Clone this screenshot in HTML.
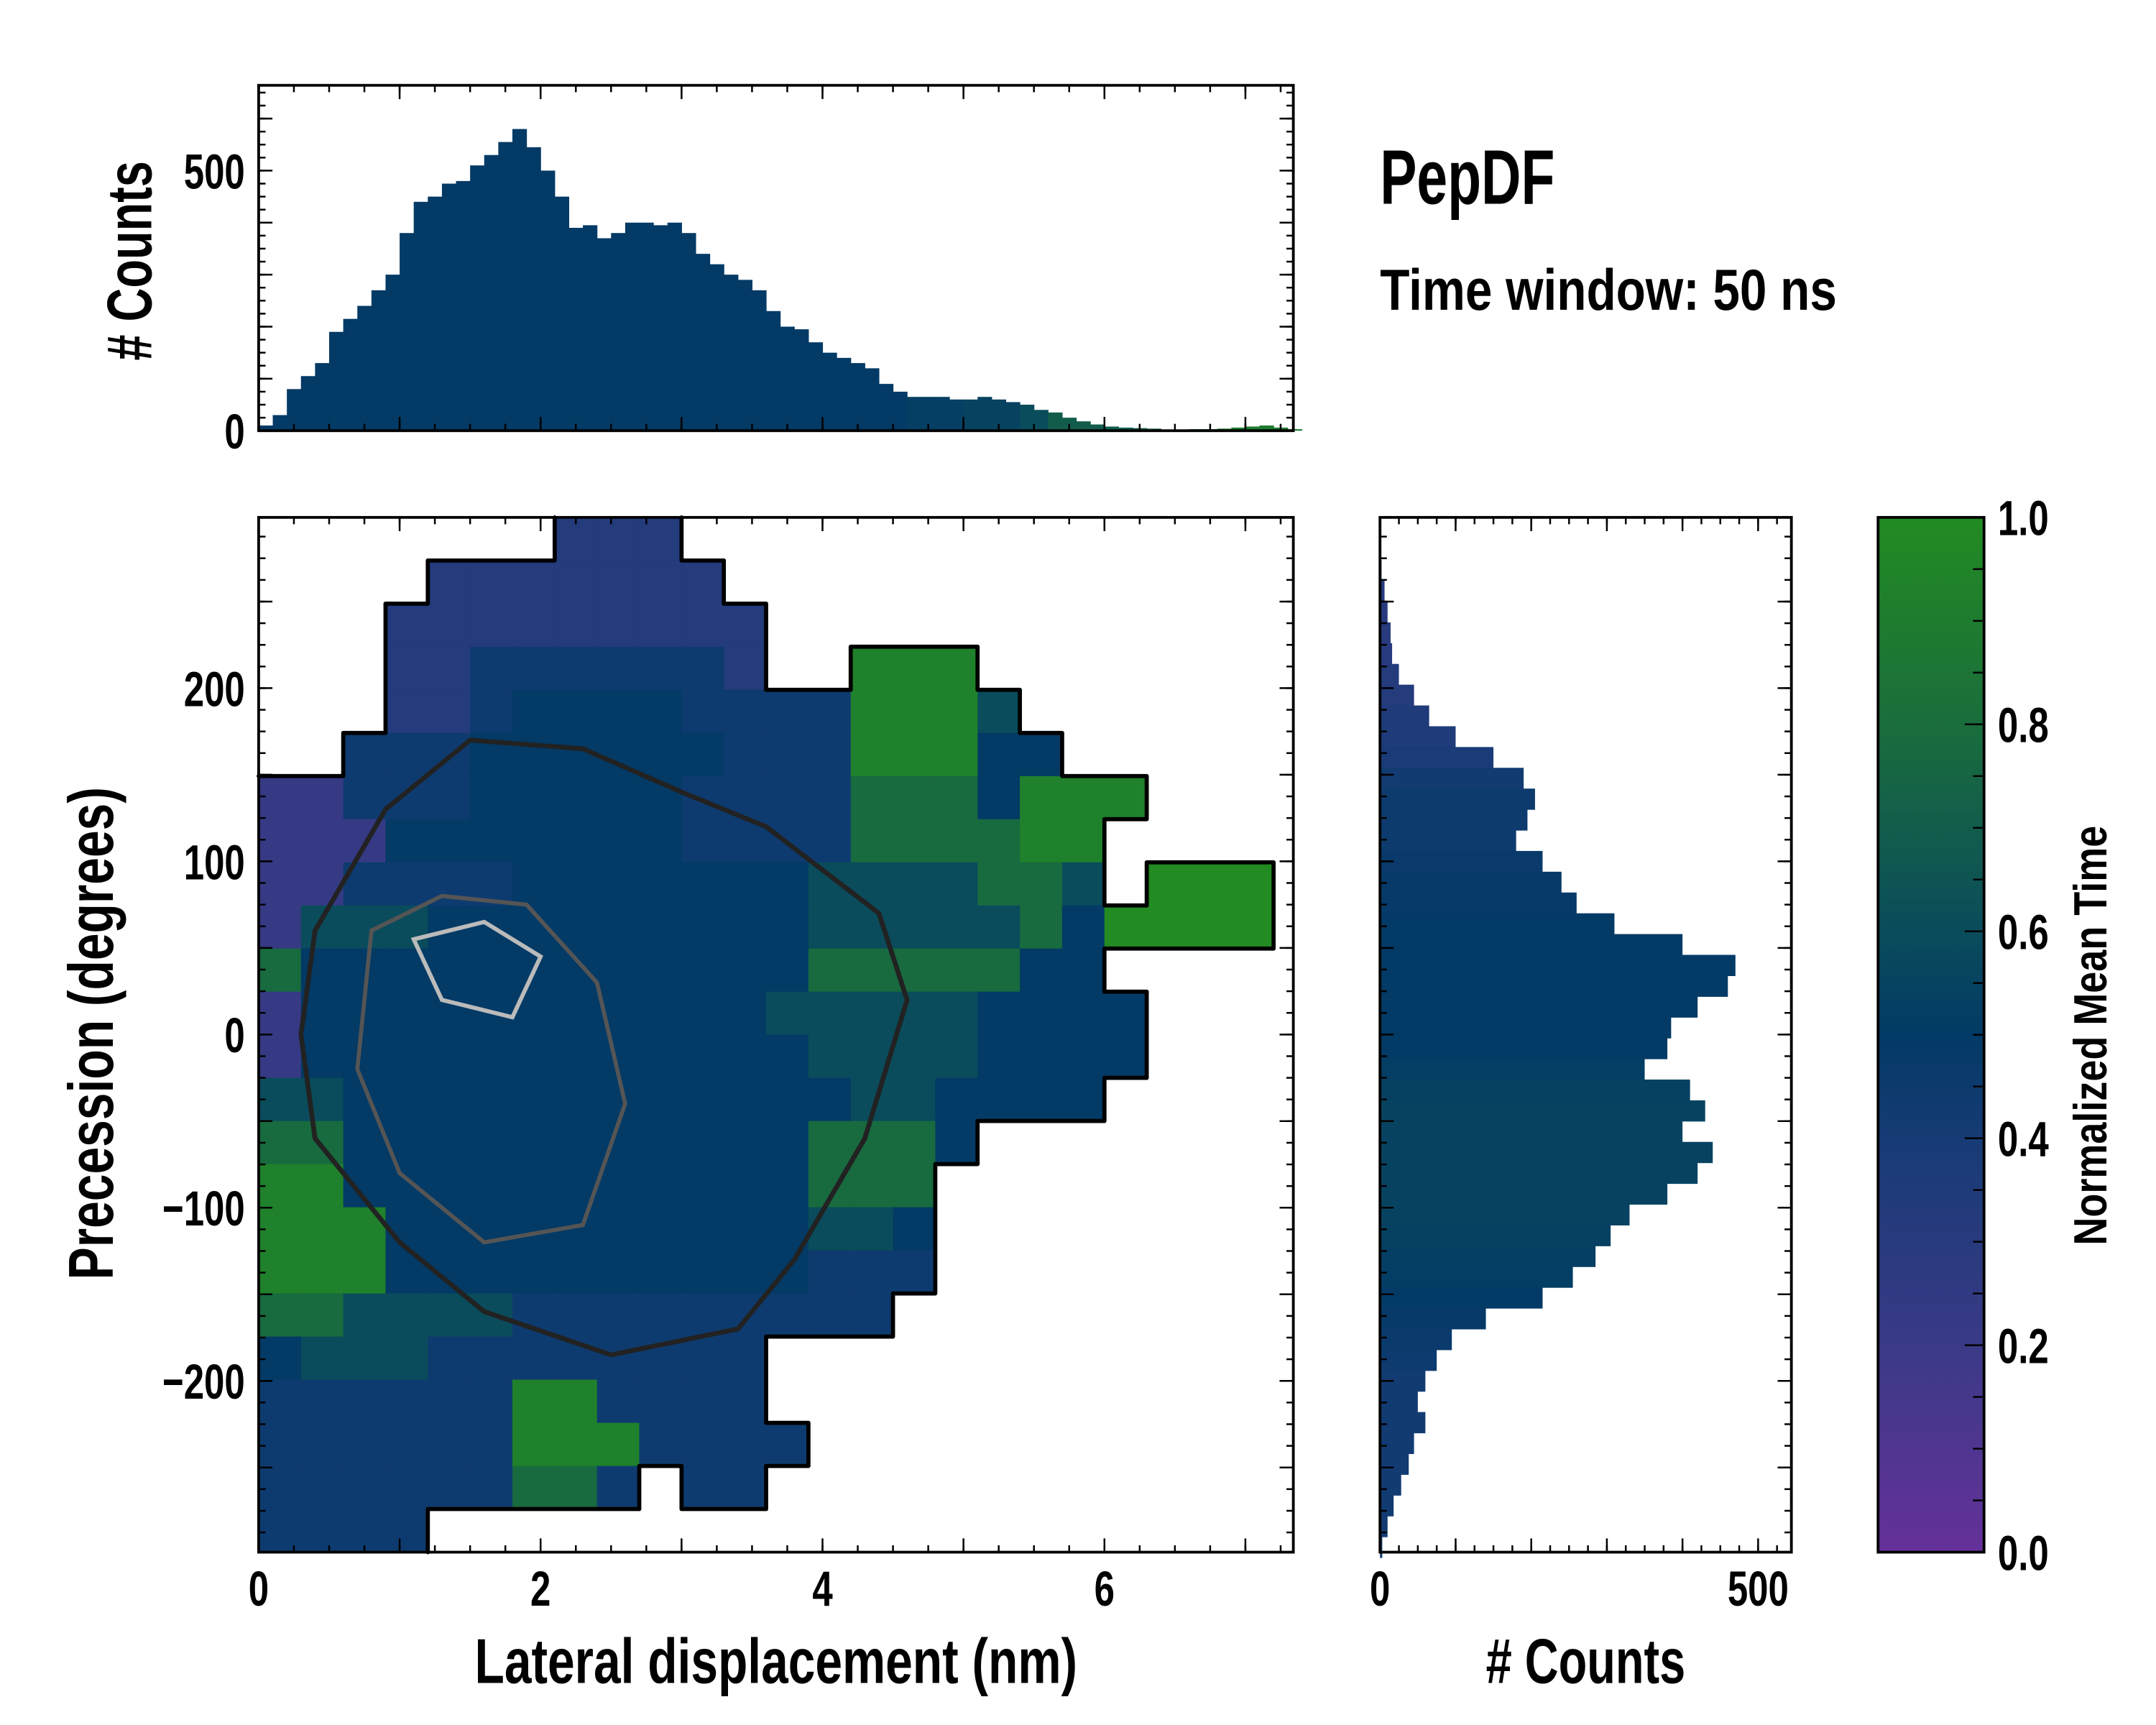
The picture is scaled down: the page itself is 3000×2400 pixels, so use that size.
<!DOCTYPE html>
<html><head><meta charset="utf-8"><style>
html,body{margin:0;padding:0;background:#fff}
svg{display:block}
text{font-family:"Liberation Sans",sans-serif;font-weight:bold;fill:#000}
</style></head><body>
<svg id="fig" xmlns="http://www.w3.org/2000/svg" width="3000" height="2400" viewBox="0 0 1567 1253.6" preserveAspectRatio="none">
<defs>
<linearGradient id="cmap" x1="0" y1="1" x2="0" y2="0">
<stop offset="0" stop-color="#65319a"/><stop offset="0.2" stop-color="#3a3a86"/><stop offset="0.4" stop-color="#163b75"/><stop offset="0.5" stop-color="#033a66"/><stop offset="0.6" stop-color="#0a4c5b"/><stop offset="0.8" stop-color="#1a6d3c"/><stop offset="1" stop-color="#228b22"/>
</linearGradient>
</defs>
<g id="top-hist"></g>
<g id="main"></g>
<g id="right-hist"></g>
<g id="cbar">
<rect x="1365" y="376" width="77" height="752" fill="url(#cmap)" stroke="#000" stroke-width="2"/>
</g>
<text x="1003" y="148" font-size="56" textLength="127" lengthAdjust="spacingAndGlyphs">PepDF</text>
<text x="1003" y="225" font-size="42" textLength="332" lengthAdjust="spacingAndGlyphs">Time window: 50 ns</text>
<text x="345" y="1223" font-size="46" textLength="438" lengthAdjust="spacingAndGlyphs">Lateral displacement (nm)</text>
<text x="1080" y="1223" font-size="46" textLength="145" lengthAdjust="spacingAndGlyphs"># Counts</text>
<text transform="translate(110,262) rotate(-90)" font-size="46" textLength="145" lengthAdjust="spacingAndGlyphs"># Counts</text>
<text transform="translate(82,930) rotate(-90)" font-size="46" textLength="358" lengthAdjust="spacingAndGlyphs">Precession (degrees)</text>
<text transform="translate(1531,905) rotate(-90)" font-size="34" textLength="305" lengthAdjust="spacingAndGlyphs">Normalized Mean Time</text>
</svg>
<script>
// ---- data ----
const gridRows = [
".......333..............",
"....3333333.............",
"...333333333............",
"...334444443..888.......",
"...334555544448886......",
"..44455555544488855.....",
"224445555544447775888...",
"2225555555444477778 8....".replace(' ',''),
"2244445555555666677 6.999".replace(' ',''),
"2666555555555666667 59999".replace(' ',''),
"7555555555555777775 5....".replace(' ',''),
"25555555555566666 5555...".replace(' ',''),
"2555555555555666 65555...".replace(' ',''),
"665555555555556655 55....".replace(' ',''),
"7755555555555777 5.......".replace(' ',''),
"8855555555555777........",
"8885555555555665........",
"8885555555555444........",
"7766664444444 44.........".replace(' ',''),
"56664444444 4............".replace(' ',''),
"444444884444............",
"44444488844 44...........".replace(' ',''),
"44444477 4.44............".replace(' ',''),
"4444...................."
];
const digitValue = [0,0.1,0.22,0.32,0.44,0.5,0.6,0.78,0.93,1.0];
const xBinCounts = [10,30,80,105,130,190,215,240,270,300,380,440,450,475,480,510,530,555,580,545,500,450,390,395,370,380,400,400,395,400,380,340,320,300,290,270,230,200,195,170,150,140,130,120,90,75,65,65,65,60,60,65,60,55,50,40,35,25,18,12,8,6,5,4,2,2,3,3,4,6,8,10,6,3];
const xBinTime = [0.5,0.5,0.5,0.5,0.5,0.5,0.5,0.5,0.5,0.5,0.5,0.5,0.5,0.5,0.5,0.5,0.5,0.5,0.5,0.5,0.5,0.5,0.5,0.5,0.5,0.5,0.5,0.5,0.5,0.5,0.5,0.5,0.5,0.5,0.5,0.5,0.5,0.5,0.5,0.5,0.5,0.5,0.5,0.5,0.5,0.5,0.53,0.53,0.53,0.53,0.55,0.55,0.55,0.55,0.6,0.6,0.7,0.7,0.7,0.7,0.7,0.7,0.7,0.7,0.9,0.9,0.9,0.9,0.9,0.9,0.9,0.9,0.9,0.9];
const yBinCenters = [268,256,244,232,220,208,196,184,172,160,148,136,124,112,100,88,76,64,52,40,28,16,4,-8,-20,-32,-44,-56,-68,-80,-92,-104,-116,-128,-140,-152,-164,-176,-188,-200,-212,-224,-236,-248,-260,-272,-284,-296];
const yBinCounts = [2,6,10,14,16,25,45,65,100,150,190,205,195,180,215,240,260,310,400,470,460,420,385,380,350,410,430,400,440,420,380,330,305,285,255,215,140,95,75,60,50,60,45,38,28,18,10,3];
const yBinTime = [0.3,0.3,0.3,0.3,0.3,0.32,0.32,0.35,0.35,0.38,0.42,0.45,0.45,0.45,0.47,0.48,0.48,0.5,0.5,0.5,0.5,0.5,0.5,0.5,0.52,0.54,0.55,0.55,0.55,0.55,0.55,0.55,0.54,0.53,0.52,0.5,0.48,0.46,0.44,0.42,0.42,0.42,0.42,0.42,0.42,0.42,0.42,0.42];
const contourDark = [[0.4,60],[0.9,130],[1.5,170],[2.3,165],[3.0,140],[3.6,120],[4.4,70],[4.6,20],[4.3,-60],[3.8,-130],[3.4,-170],[2.5,-185],[1.6,-160],[1.0,-120],[0.4,-60],[0.3,0]];
const contourMid = [[0.8,60],[1.3,80],[1.9,75],[2.4,30],[2.6,-40],[2.3,-110],[1.6,-120],[1.0,-80],[0.7,-20]];
const contourLight = [[1.1,55],[1.6,65],[2.0,45],[1.8,10],[1.3,20]];
const xTickLabels = ["0","2","4","6"];
const yTickLabels = ["200","100","0","\u2212100","\u2212200"];
const yTickValues = [200,100,0,-100,-200];

// ---- scales ----
const NS='http://www.w3.org/2000/svg';
const MX0=188,MX1=940,MY0=376,MY1=1128;
const XMAX=7.34, YMAX=298.6, YMIN=-298.9;
const sx = v => MX0 + v/XMAX*(MX1-MX0);
const sy = v => MY0 + (YMAX-v)/(YMAX-YMIN)*(MY1-MY0);
const TY0=62,TY1=313,TCMAX=664;
const ty = c => TY1 - c/TCMAX*(TY1-TY0);
const RX0=1003,RX1=1302,RCMAX=544;
const rx = c => RX0 + c/RCMAX*(RX1-RX0);
const stops=[[0,[0x65,0x31,0x9a]],[0.2,[0x3a,0x3a,0x86]],[0.4,[0x16,0x3b,0x75]],[0.5,[0x03,0x3a,0x66]],[0.6,[0x0a,0x4c,0x5b]],[0.8,[0x1a,0x6d,0x3c]],[1,[0x22,0x8b,0x22]]];
function cmap(v){for(let i=1;i<stops.length;i++){if(v<=stops[i][0]){const a=stops[i-1],b=stops[i],t=(v-a[0])/(b[0]-a[0]);return 'rgb('+a[1].map((c,k)=>Math.round(c+(b[1][k]-c)*t)).join(',')+')';}}return 'rgb(34,139,34)';}
function mk(tag,attrs,parent){const e=document.createElementNS(NS,tag);for(const k in attrs)e.setAttribute(k,attrs[k]);parent.appendChild(e);return e;}
function lbl(parent,x,y,s,anchor){const t=mk('text',{x:0,y:0,'font-size':36,'text-anchor':anchor,transform:`translate(${x},${y}) scale(0.74,1)`},parent);t.textContent=s;

return t;}

// ---- heatmap ----
const main=document.getElementById('main');
const NR=gridRows.length, NC=24, cw=0.3, ch=(YMAX-YMIN)/NR;
const cellAt=(r,c)=>{if(r<0||r>=NR||c<0||c>=NC)return '.';const ch_=gridRows[r][c];return ch_===undefined?'.':ch_;};
for(let r=0;r<NR;r++)for(let c=0;c<NC;c++){const d=cellAt(r,c);if(d==='.')continue;
const x0=sx(c*cw),x1=sx((c+1)*cw),y0=sy(YMAX-r*ch),y1=sy(YMAX-(r+1)*ch);
const rc=mk('rect',{x:x0,y:y0,width:x1-x0+0.5,height:y1-y0+0.5,fill:cmap(digitValue[+d])},main);

}
let od='';
for(let r=0;r<NR;r++)for(let c=0;c<NC;c++){if(cellAt(r,c)==='.')continue;
const x0=sx(c*cw),x1=sx((c+1)*cw),y0=sy(YMAX-r*ch),y1=sy(YMAX-(r+1)*ch);
if(cellAt(r-1,c)==='.'&&r>0)od+=`M${x0},${y0}H${x1}`;
if(cellAt(r+1,c)==='.'&&r<NR-1)od+=`M${x0},${y1}H${x1}`;
if(cellAt(r,c-1)==='.'&&c>0)od+=`M${x0},${y0}V${y1}`;
if(cellAt(r,c+1)==='.')od+=`M${x1},${y0}V${y1}`;}
const ol=mk('path',{d:od,stroke:'#000',fill:'none','stroke-width':3,'stroke-linecap':'round'},main);


[[contourDark,'#222',3.5,'contour-dark'],[contourMid,'#555',3,'contour-mid'],[contourLight,'#bbb',3,'contour-light']].forEach(([pts,col,w,nm])=>{
const p=mk('polygon',{points:pts.map(q=>sx(q[0])+','+sy(q[1])).join(' '),fill:'none',stroke:col,'stroke-width':w},main);

});
function frame(g,x0,y0,x1,y1){const f=mk('rect',{x:x0,y:y0,width:x1-x0,height:y1-y0,fill:'none',stroke:'#000','stroke-width':2},g);

}
function xticks(g,scale,lo,hi,step,len,y0,y1){for(let v=lo;v<=hi+1e-9;v+=step){const x=scale(v);mk('line',{x1:x,x2:x,y1:y0,y2:y0-len,stroke:'#000','stroke-width':1.3},g);mk('line',{x1:x,x2:x,y1:y1,y2:y1+len,stroke:'#000','stroke-width':1.3},g);}}
function yticks(g,scale,lo,hi,step,len,x0,x1){for(let v=lo;v<=hi+1e-9;v+=step){const y=scale(v);mk('line',{x1:x0,x2:x0+len,y1:y,y2:y,stroke:'#000','stroke-width':1.3},g);mk('line',{x1:x1,x2:x1-len,y1:y,y2:y,stroke:'#000','stroke-width':1.3},g);}}
frame(main,MX0,MY0,MX1,MY1);
xticks(main,sx,0,7.25,0.25,5,MY1,MY0);xticks(main,sx,0,7,1,10,MY1,MY0);
yticks(main,sy,-287.5,287.5,12.5,5,MX0,MX1);yticks(main,sy,-250,250,50,10,MX0,MX1);
xTickLabels.forEach(s=>lbl(main,sx(+s),1167,s,'middle'));
yTickLabels.forEach((s,i)=>lbl(main,178,sy(yTickValues[i])+13,s,'end'));

// ---- top histogram ----
const th=document.getElementById('top-hist');
xBinCounts.forEach((c,i)=>{const x0=sx(i*0.1),x1=sx((i+1)*0.1);
const b=mk('rect',{x:x0,y:ty(c),width:x1-x0+0.3,height:TY1-ty(c),fill:cmap(xBinTime[i])},th);

});
frame(th,MX0,TY0,MX1,TY1);
xticks(th,sx,0,7.25,0.25,5,TY1,TY0);xticks(th,sx,0,7,1,10,TY1,TY0);
yticks(th,ty,0,650,25,5,MX0,MX1);yticks(th,ty,0,600,100,10,MX0,MX1);
lbl(th,178,ty(500)+13,'500','end');lbl(th,178,ty(0)+13,'0','end');

// ---- right histogram ----
const rh=document.getElementById('right-hist');
yBinCenters.forEach((v,i)=>{const y0=sy(v+6),y1=sy(v-6);
const b=mk('rect',{x:RX0,y:y0,width:rx(yBinCounts[i])-RX0,height:y1-y0+0.3,fill:cmap(yBinTime[i])},rh);

});
frame(rh,RX0,MY0,RX1,MY1);
xticks(rh,rx,0,525,25,5,MY1,MY0);xticks(rh,rx,0,500,100,10,MY1,MY0);
yticks(rh,sy,-287.5,287.5,12.5,5,RX0,RX1);yticks(rh,sy,-250,250,50,10,RX0,RX1);
lbl(rh,rx(0),1167,'0','middle');lbl(rh,rx(500),1167,'500','middle');

// ---- colorbar ----
const cb=document.getElementById('cbar');
const cy=v=>1128-v*752;
for(let v=0;v<=1.0001;v+=0.05){const y=cy(v);const major=Math.abs(v*5-Math.round(v*5))<1e-6;mk('line',{x1:1441,x2:major?1428:1434,y1:y,y2:y,stroke:'#000','stroke-width':1.3},cb);}
["0.0","0.2","0.4","0.6","0.8","1.0"].forEach(s=>lbl(cb,1452,cy(+s)+13,s,'start'));
</script>
</body></html>
